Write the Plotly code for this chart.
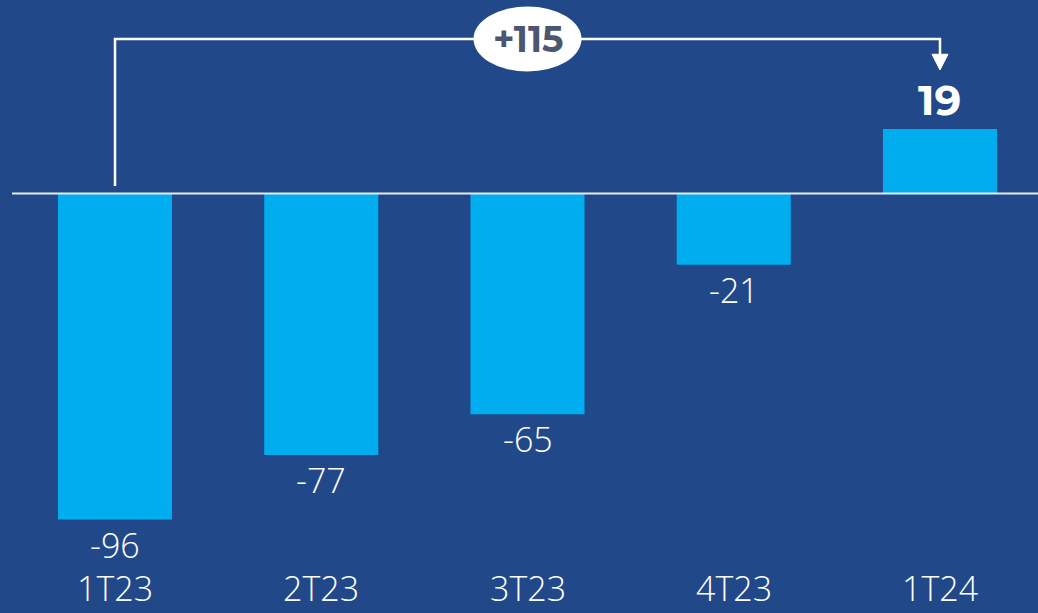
import plotly.graph_objects as go

categories = ["1T23", "2T23", "3T23", "4T23", "1T24"]
values = [-96, -77, -65, -21, 19]
change_label = "+115"

BG = "#21498a"
BAR = "#00adef"
FONT = "Open Sans"

xs = list(range(len(categories)))
fig = go.Figure()
fig.add_trace(go.Bar(x=xs, y=values, width=0.553, marker=dict(color=BAR, line=dict(width=0)),
                     hoverinfo="skip"))

# value labels
for x, v in zip(xs, values):
    if v < 0:
        fig.add_annotation(x=x, y=v, text=str(v), showarrow=False, yanchor="middle", yshift=-25,
                           font=dict(family=FONT, size=34, color="white", weight=300))
    else:
        fig.add_annotation(x=x, y=v, text=f"<b>{v}</b>", showarrow=False, yanchor="middle", yshift=29,
                           font=dict(family="Montserrat, Open Sans", size=42, color="white", weight=700))

# category labels
for x, c in zip(xs, categories):
    fig.add_annotation(x=x, y=0, yref="paper", text=c, showarrow=False, yanchor="bottom", yshift=0,
                       font=dict(family=FONT, size=34, color="white", weight=300))

# zero line
fig.add_shape(type="line", x0=-0.4994, x1=4.6, y0=0, y1=0, line=dict(color="#e6ebf3", width=2))

# bracket
y_top = 45.5
lw = 2.5
fig.add_shape(type="path",
              path=f"M 0 2.2 L 0 {y_top} L 4 {y_top} L 4 40.8",
              line=dict(color="white", width=lw))
fig.add_shape(type="path",
              path=f"M 3.961 41.0 L 4.039 41.0 L 4 36.4 Z",
              line=dict(color="white", width=1), fillcolor="white")

# ellipse label
fig.add_shape(type="circle", x0=2 - 54 / 206.25, x1=2 + 54 / 206.25,
              y0=y_top - 32.5 / 3.396, y1=y_top + 32.5 / 3.396,
              line=dict(color="white", width=0), fillcolor="white")
fig.add_annotation(x=2, y=y_top, text=f"<b>{change_label}</b>", showarrow=False, yanchor="middle",
                   font=dict(family="Montserrat, Open Sans", size=36, color="#4b5670", weight=700))

fig.update_layout(
    width=1038, height=613,
    margin=dict(l=0, r=0, t=0, b=0),
    paper_bgcolor=BG, plot_bgcolor=BG,
    showlegend=False,
    xaxis=dict(range=[-0.5576, 4.4752], visible=False, fixedrange=True),
    yaxis=dict(range=[-123.5, 56.98], visible=False, fixedrange=True),
)

fig.write_html("out.html", config={"displayModeBar": False},
               post_script="document.body.style.margin='0';document.body.style.padding='0';document.body.style.overflow='hidden';")
